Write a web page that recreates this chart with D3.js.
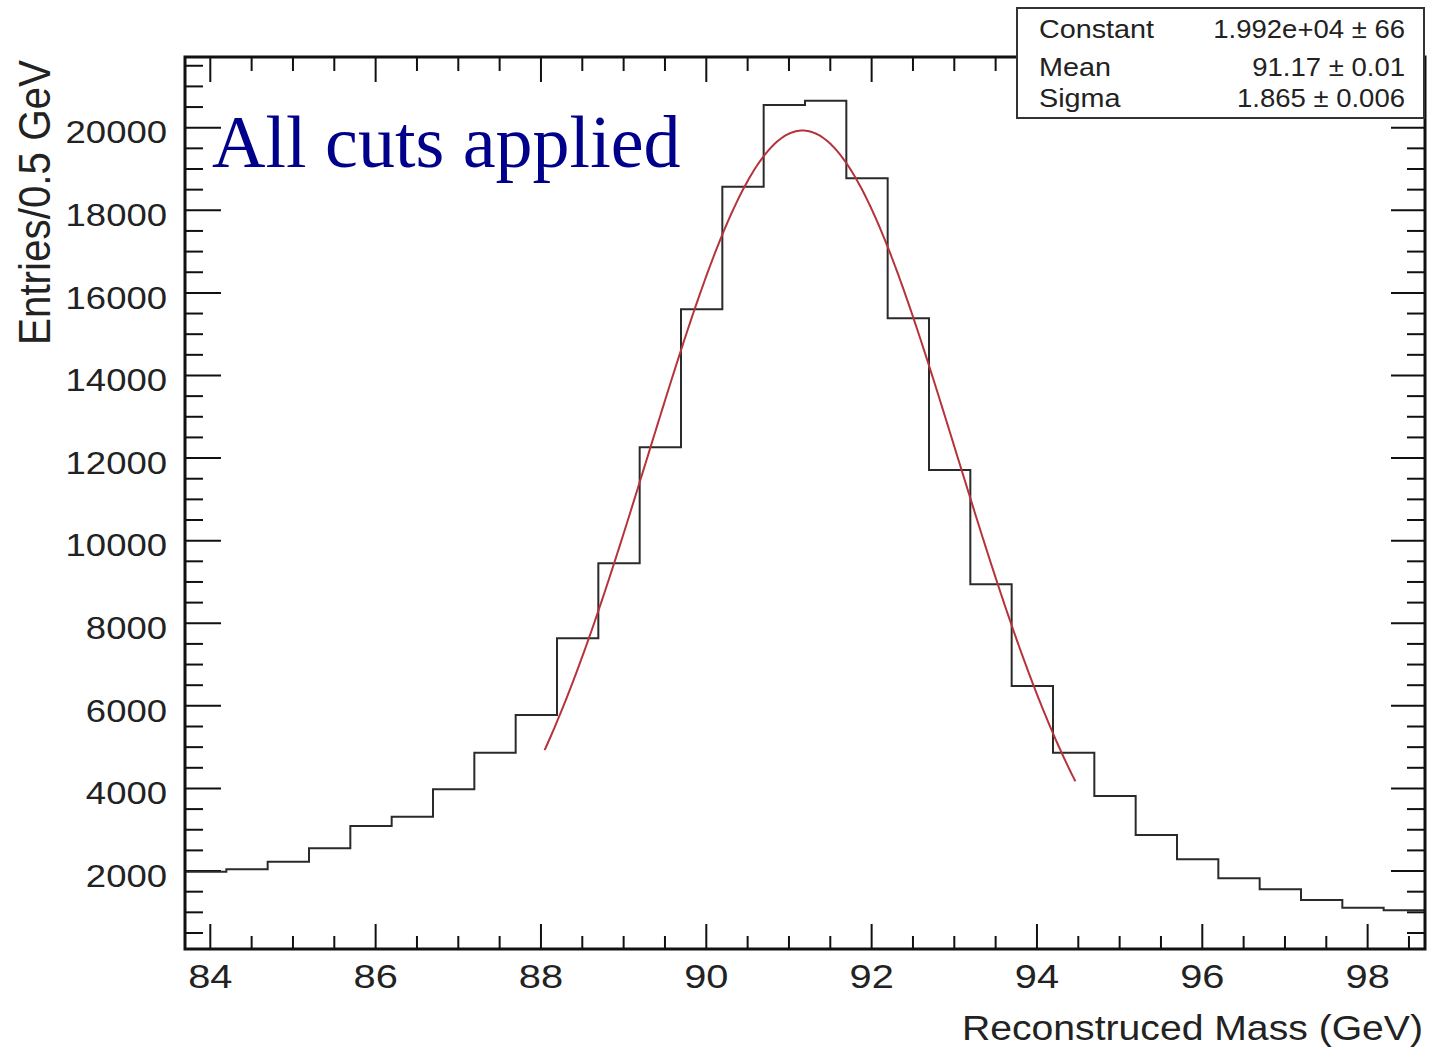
<!DOCTYPE html>
<html>
<head>
<meta charset="utf-8">
<script src="https://cdn.jsdelivr.net/npm/d3@7"></script>
<style>
  html, body { margin: 0; padding: 0; background: #fff; }
  svg { display: block; }
  text { font-family: "Liberation Sans", Arial, Helvetica, sans-serif; fill: #222; }
</style>
</head>
<body>
<svg id="chart" width="1429" height="1055"></svg>
<script>
// Histogram of reconstructed Z mass, 0.5 GeV bins starting at 83.7 GeV
const binStart = 83.7;
const binWidth = 0.5;
const counts = [1972, 2030, 2214, 2538, 3079, 3304, 3967, 4854, 5766, 7623,
                9439, 12248, 15591, 18559, 20538, 20642, 18763, 15373, 11699, 8931,
                6469, 4854, 3805, 2861, 2272, 1812, 1546, 1287, 1100, 1040];

// Gaussian fit result and range
const fitConstant = 1.992e4;
const fitMean = 91.17;
const fitSigma = 1.865;
const fitRange = [88.05, 94.48];

// Stats box rows
const statNames = ["Constant", "Mean", "Sigma"];
const statValues = ["1.992e+04 \u00b1 66", "91.17 \u00b1 0.01", "1.865 \u00b1 0.006"];

// Axis ticks
const xMajor = [84, 86, 88, 90, 92, 94, 96, 98];
const xMinor = d3.range(84, 98.51, 0.5).filter(v => !xMajor.includes(v));
const yMajor = [2000, 4000, 6000, 8000, 10000, 12000, 14000, 16000, 18000, 20000];
const yMinor = d3.range(500, 21501, 500).filter(v => !yMajor.includes(v));

const svg = d3.select("#chart");
const L = 185, R = 1425, T = 57, B = 949;

const x = d3.scaleLinear().domain([83.7, 98.7]).range([L, R]);
const y = d3.scaleLinear().domain([100, 21700]).range([B, T]);

// Widen glyphs horizontally to the proportions of the plot lettering
function stretch(sel, k) {
  sel.each(function () {
    const w = this.getComputedTextLength();
    this.setAttribute("textLength", w * k);
    this.setAttribute("lengthAdjust", "spacingAndGlyphs");
  });
}

function styleTicks(g) {
  g.select(".domain").remove();
  g.selectAll(".tick line").attr("stroke", "#111").attr("stroke-width", 2);
}

// Left axis: major with labels, minor unlabeled
const gLeft = svg.append("g").attr("transform", `translate(${L},0)`)
  .call(d3.axisLeft(y).tickValues(yMajor).tickSize(-36).tickPadding(18).tickFormat(d3.format("d")));
styleTicks(gLeft);
gLeft.selectAll(".tick text").attr("font-size", 32).attr("dy", "0.49em")
  .attr("font-family", "Liberation Sans, Arial, sans-serif").attr("fill", "#222");
stretch(gLeft.selectAll(".tick text"), 1.14);
const gLeftMinor = svg.append("g").attr("transform", `translate(${L},0)`)
  .call(d3.axisLeft(y).tickValues(yMinor).tickSize(-18).tickFormat(""));
styleTicks(gLeftMinor);

// Right axis ticks (mirrored)
const gRight = svg.append("g").attr("transform", `translate(${R},0)`)
  .call(d3.axisRight(y).tickValues(yMajor).tickSize(-34).tickFormat(""));
styleTicks(gRight);
const gRightMinor = svg.append("g").attr("transform", `translate(${R},0)`)
  .call(d3.axisRight(y).tickValues(yMinor).tickSize(-18).tickFormat(""));
styleTicks(gRightMinor);

// Bottom axis
const gBottom = svg.append("g").attr("transform", `translate(0,${B})`)
  .call(d3.axisBottom(x).tickValues(xMajor).tickSize(-25).tickPadding(15).tickFormat(d3.format("d")));
styleTicks(gBottom);
gBottom.selectAll(".tick text").attr("font-size", 34)
  .attr("font-family", "Liberation Sans, Arial, sans-serif").attr("fill", "#222");
stretch(gBottom.selectAll(".tick text"), 1.17);
const gBottomMinor = svg.append("g").attr("transform", `translate(0,${B})`)
  .call(d3.axisBottom(x).tickValues(xMinor).tickSize(-13).tickFormat(""));
styleTicks(gBottomMinor);

// Top axis ticks (mirrored)
const gTop = svg.append("g").attr("transform", `translate(0,${T})`)
  .call(d3.axisTop(x).tickValues(xMajor).tickSize(-25).tickFormat(""));
styleTicks(gTop);
const gTopMinor = svg.append("g").attr("transform", `translate(0,${T})`)
  .call(d3.axisTop(x).tickValues(xMinor).tickSize(-14).tickFormat(""));
styleTicks(gTopMinor);

// Histogram outline as a step line
const stepPts = counts.map((c, i) => [binStart + i * binWidth, c]);
stepPts.push([binStart + counts.length * binWidth, counts[counts.length - 1]]);
svg.append("path")
  .datum(stepPts)
  .attr("fill", "none")
  .attr("stroke", "#2a2a2a")
  .attr("stroke-width", 2)
  .attr("d", d3.line().x(d => x(d[0])).y(d => y(d[1])).curve(d3.curveStepAfter));

// Gaussian fit curve
const gauss = m => fitConstant * Math.exp(-0.5 * Math.pow((m - fitMean) / fitSigma, 2));
const fitPts = d3.range(fitRange[0], fitRange[1] + 1e-9, 0.02).map(m => [m, gauss(m)]);
svg.append("path")
  .datum(fitPts)
  .attr("fill", "none")
  .attr("stroke", "#b5343c")
  .attr("stroke-width", 2)
  .attr("d", d3.line().x(d => x(d[0])).y(d => y(d[1])).curve(d3.curveLinear));

// Frame
svg.append("rect")
  .attr("x", L).attr("y", T).attr("width", R - L).attr("height", B - T)
  .attr("fill", "none").attr("stroke", "#111").attr("stroke-width", 3);

// Axis titles
const xTitle = svg.append("text")
  .attr("x", 1423).attr("y", 1040)
  .attr("text-anchor", "end")
  .attr("font-size", 35)
  .text("Reconstruced Mass (GeV)");
xTitle.attr("textLength", 461).attr("lengthAdjust", "spacingAndGlyphs");

svg.append("g")
  .attr("transform", "translate(50,60) scale(1.13,1) rotate(-90)")
  .append("text")
  .attr("text-anchor", "end")
  .attr("font-size", 40)
  .attr("textLength", 285)
  .attr("lengthAdjust", "spacingAndGlyphs")
  .text("Entries/0.5 GeV");

// Annotation
svg.append("text")
  .attr("x", 212).attr("y", 167)
  .attr("font-size", 74)
  .style("font-family", "'Liberation Serif', 'Times New Roman', serif")
  .style("fill", "#00008b")
  .text("All cuts applied");

// Fit statistics box
svg.append("rect")
  .attr("x", 1017).attr("y", 8).attr("width", 407).attr("height", 110)
  .attr("fill", "#fff").attr("stroke", "#333").attr("stroke-width", 2);

const rowBase = [38, 76, 107];
const names = svg.append("g").selectAll("text").data(statNames).join("text")
  .attr("x", 1039).attr("y", (d, i) => rowBase[i])
  .attr("font-size", 25)
  .text(d => d);
stretch(names, 1.15);
const vals = svg.append("g").selectAll("text").data(statValues).join("text")
  .attr("x", 1405).attr("y", (d, i) => rowBase[i])
  .attr("text-anchor", "end")
  .attr("font-size", 25)
  .text(d => d);
stretch(vals, 1.1);
</script>
</body>
</html>
